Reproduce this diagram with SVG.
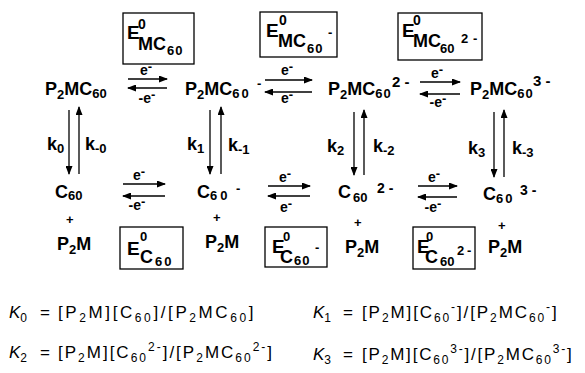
<svg xmlns="http://www.w3.org/2000/svg" width="585" height="373" viewBox="0 0 585 373">
<defs>
<marker id="ah" markerWidth="9" markerHeight="7" refX="8" refY="3.5" orient="auto" markerUnits="userSpaceOnUse"><path d="M0,0 L9,3.5 L0,7 z" fill="#000"/></marker>
<style>
.b{font-family:"Liberation Sans",Arial,sans-serif;font-weight:bold;fill:#000}
.r{font-family:"Liberation Sans",Arial,sans-serif;fill:#000;font-size:17px}
.m{font-size:18px}
.s{font-size:13px}
.e{font-size:14px}
.t{font-size:12px}
.box{fill:none;stroke:#000;stroke-width:1.3}
.ln{stroke:#000;stroke-width:1.3;fill:none}
</style>
</defs>
<rect width="585" height="373" fill="#fff"/>

<g id="box-E-MC60">
<rect class="box" x="123" y="13" width="71" height="51"/>
<text class="b" font-size="19" x="127" y="39">E<tspan font-size="14" x="138" y="29">0</tspan><tspan class="m" x="138" y="50">MC</tspan><tspan class="s" x="167" y="55" letter-spacing="1">60</tspan></text>
</g>
<g id="box-E-MC60-">
<rect class="box" x="260" y="12" width="77" height="45"/>
<text class="b" font-size="19" x="266" y="37">E<tspan font-size="14" x="279" y="25">0</tspan><tspan class="m" x="278" y="47">MC</tspan><tspan class="s" x="307" y="53" letter-spacing="1">60</tspan><tspan class="s" x="328" y="37">-</tspan></text>
</g>
<g id="box-E-MC60-2-">
<rect class="box" x="398" y="13" width="84" height="47"/>
<text class="b" font-size="19" x="402" y="37">E<tspan font-size="14" x="413" y="25">0</tspan><tspan class="m" x="413" y="47">MC</tspan><tspan class="s" x="440" y="53">60</tspan><tspan class="s" x="461" y="43">2</tspan><tspan class="s" x="473" y="43">-</tspan></text>
</g>

<g id="box-E-C60">
<rect class="box" x="120" y="227" width="63" height="42"/>
<text class="b" font-size="19" x="127" y="255">E<tspan font-size="13" x="140" y="241">0</tspan><tspan class="m" x="140" y="263">C</tspan><tspan class="s" x="155" y="266" letter-spacing="2">60</tspan></text>
</g>
<g id="box-E-C60-">
<rect class="box" x="265" y="227" width="62" height="40"/>
<text class="b" font-size="19" x="272" y="253">E<tspan font-size="13" x="283" y="241">0</tspan><tspan class="m" x="280" y="263">C</tspan><tspan class="s" x="294" y="265" letter-spacing="1">60</tspan><tspan class="s" x="315" y="252">-</tspan></text>
</g>
<g id="box-E-C60-2-">
<rect class="box" x="413" y="227" width="62" height="42"/>
<text class="b" font-size="19" x="417" y="253">E<tspan font-size="13" x="426" y="241">0</tspan><tspan class="m" x="425" y="263">C</tspan><tspan class="s" x="440" y="266">60</tspan><tspan class="s" x="457" y="255">2</tspan><tspan class="s" x="467" y="255">-</tspan></text>
</g>

<g id="P2MC60">
<text class="b m" x="45" y="95">P<tspan class="s" y="99">2</tspan><tspan y="95">MC</tspan><tspan class="s" y="98">60</tspan></text>
</g>
<g id="P2MC60-">
<text class="b m" x="185" y="95">P<tspan class="s" y="99">2</tspan><tspan y="95">MC</tspan><tspan class="s" y="98" letter-spacing="2">60</tspan><tspan class="s" x="257" y="88">-</tspan></text>
</g>
<g id="P2MC60-2-">
<text class="b m" x="328" y="95">P<tspan class="s" y="99">2</tspan><tspan y="95">MC</tspan><tspan class="s" y="98" letter-spacing="1">60</tspan><tspan font-size="15" x="392" y="87">2 -</tspan></text>
</g>
<g id="P2MC60-3-">
<text class="b m" x="470" y="95">P<tspan class="s" y="99">2</tspan><tspan y="95">MC</tspan><tspan class="s" y="98" letter-spacing="1">60</tspan><tspan font-size="15" x="533" y="86">3 -</tspan></text>
</g>

<g id="C60">
<text class="b m" x="55" y="198">C<tspan class="s" y="200">60</tspan></text>
<text class="b" font-size="13" x="66" y="224">+</text>
<text class="b m" x="57" y="250">P<tspan class="s" y="254">2</tspan><tspan y="250">M</tspan></text>
</g>
<g id="C60-">
<text class="b m" x="197" y="198">C<tspan class="s" x="210" y="200" letter-spacing="3">60</tspan><tspan class="s" x="236" y="193">-</tspan></text>
<text class="b" font-size="13" x="213" y="222">+</text>
<text class="b m" x="205" y="248">P<tspan class="s" y="252">2</tspan><tspan y="248">M</tspan></text>
</g>
<g id="C60-2-">
<text class="b m" x="338" y="198">C<tspan class="s" x="353" y="202">60</tspan><tspan font-size="14" x="377" y="193">2 -</tspan></text>
<text class="b" font-size="13" x="354" y="227">+</text>
<text class="b m" x="345" y="253">P<tspan class="s" y="257">2</tspan><tspan y="253">M</tspan></text>
</g>
<g id="C60-3-">
<text class="b m" x="483" y="200">C<tspan class="s" x="496" y="203" letter-spacing="2">60</tspan><tspan font-size="14" x="520" y="195">3 -</tspan></text>
<text class="b" font-size="13" x="498" y="230">+</text>
<text class="b m" x="488" y="253">P<tspan class="s" y="257">2</tspan><tspan y="253">M</tspan></text>
</g>

<g id="connectors">
<line class="ln" x1="128" y1="79" x2="167" y2="79" marker-end="url(#ah)"/>
<line class="ln" x1="167" y1="88" x2="128" y2="88" marker-end="url(#ah)"/>
<line class="ln" x1="265" y1="80" x2="312" y2="80" marker-end="url(#ah)"/>
<line class="ln" x1="312" y1="92" x2="265" y2="92" marker-end="url(#ah)"/>
<line class="ln" x1="420" y1="82" x2="460" y2="82" marker-end="url(#ah)"/>
<line class="ln" x1="460" y1="94" x2="420" y2="94" marker-end="url(#ah)"/>

<line class="ln" x1="123" y1="184" x2="165" y2="184" marker-end="url(#ah)"/>
<line class="ln" x1="165" y1="196" x2="123" y2="196" marker-end="url(#ah)"/>
<line class="ln" x1="268" y1="186" x2="310" y2="186" marker-end="url(#ah)"/>
<line class="ln" x1="310" y1="196" x2="268" y2="196" marker-end="url(#ah)"/>
<line class="ln" x1="418" y1="186" x2="457" y2="186" marker-end="url(#ah)"/>
<line class="ln" x1="457" y1="197" x2="418" y2="197" marker-end="url(#ah)"/>

<line class="ln" x1="69" y1="110" x2="69" y2="174" marker-end="url(#ah)"/>
<line class="ln" x1="79" y1="174" x2="79" y2="107" marker-end="url(#ah)"/>
<line class="ln" x1="210" y1="110" x2="210" y2="174" marker-end="url(#ah)"/>
<line class="ln" x1="221" y1="174" x2="221" y2="107" marker-end="url(#ah)"/>
<line class="ln" x1="354" y1="112" x2="354" y2="175" marker-end="url(#ah)"/>
<line class="ln" x1="364" y1="175" x2="364" y2="110" marker-end="url(#ah)"/>
<line class="ln" x1="494" y1="112" x2="494" y2="177" marker-end="url(#ah)"/>
<line class="ln" x1="504" y1="177" x2="504" y2="110" marker-end="url(#ah)"/>

<g class="b e" text-anchor="middle">
<text x="146" y="75">e<tspan class="s" dy="-4">-</tspan></text>
<text x="147" y="103">-e<tspan class="s" dy="-4">-</tspan></text>
<text x="287" y="75">e<tspan class="s" dy="-4">-</tspan></text>
<text x="287" y="103">e<tspan class="s" dy="-4">-</tspan></text>
<text x="437" y="78">e<tspan class="s" dy="-4">-</tspan></text>
<text x="438" y="107">-e<tspan class="s" dy="-4">-</tspan></text>
<text x="139" y="180">e<tspan class="s" dy="-4">-</tspan></text>
<text x="137" y="210">-e<tspan class="s" dy="-4">-</tspan></text>
<text x="285" y="182">e<tspan class="s" dy="-4">-</tspan></text>
<text x="286" y="212">e<tspan class="s" dy="-4">-</tspan></text>
<text x="434" y="182">e<tspan class="s" dy="-4">-</tspan></text>
<text x="433" y="212">-e<tspan class="s" dy="-4">-</tspan></text>
</g>
<g class="b m">
<text x="47" y="150">k<tspan class="s" y="153">0</tspan></text>
<text x="85" y="150">k<tspan class="s" y="153">-0</tspan></text>
<text x="187" y="150">k<tspan class="s" y="153">1</tspan></text>
<text x="228" y="151">k<tspan class="s" y="154">-1</tspan></text>
<text x="327" y="152">k<tspan class="s" y="155">2</tspan></text>
<text x="373" y="152">k<tspan class="s" y="155">-2</tspan></text>
<text x="468" y="154">k<tspan class="s" y="157">3</tspan></text>
<text x="512" y="154">k<tspan class="s" y="157">-3</tspan></text>
</g>
</g>

<g id="equations" class="r">
<text x="9" y="318"><tspan font-style="italic">K</tspan><tspan class="t" y="322">0</tspan><tspan x="40" y="318">=</tspan><tspan x="58" letter-spacing="2.6">[P<tspan class="t" y="322">2</tspan><tspan y="318">M][C</tspan><tspan class="t" y="322">60</tspan><tspan y="318">]/[P</tspan><tspan class="t" y="322">2</tspan><tspan y="318">MC</tspan><tspan class="t" y="322">60</tspan><tspan y="318">]</tspan></tspan></text>
<text x="313" y="318"><tspan font-style="italic">K</tspan><tspan class="t" y="322">1</tspan><tspan x="343" y="318">=</tspan><tspan x="362" letter-spacing="1.9">[P<tspan class="t" y="322">2</tspan><tspan y="318">M][C</tspan><tspan class="t" y="322">60</tspan><tspan class="t" y="311">-</tspan><tspan y="318">]/[P</tspan><tspan class="t" y="322">2</tspan><tspan y="318">MC</tspan><tspan class="t" y="322">60</tspan><tspan class="t" y="311">-</tspan><tspan y="318">]</tspan></tspan></text>
<text x="9" y="358"><tspan font-style="italic">K</tspan><tspan class="t" y="362">2</tspan><tspan x="40" y="358">=</tspan><tspan x="58" letter-spacing="2">[P<tspan class="t" y="362">2</tspan><tspan y="358">M][C</tspan><tspan class="t" y="362">60</tspan><tspan class="t" y="351">2-</tspan><tspan y="358">]/[P</tspan><tspan class="t" y="362">2</tspan><tspan y="358">MC</tspan><tspan class="t" y="362">60</tspan><tspan class="t" y="351">2-</tspan><tspan y="358">]</tspan></tspan></text>
<text x="313" y="360"><tspan font-style="italic">K</tspan><tspan class="t" y="364">3</tspan><tspan x="343" y="360">=</tspan><tspan x="362" letter-spacing="1.8">[P<tspan class="t" y="364">2</tspan><tspan y="360">M][C</tspan><tspan class="t" y="364">60</tspan><tspan class="t" y="353">3-</tspan><tspan y="360">]/[P</tspan><tspan class="t" y="364">2</tspan><tspan y="360">MC</tspan><tspan class="t" y="364">60</tspan><tspan class="t" y="353">3-</tspan><tspan y="360">]</tspan></tspan></text>
</g>
</svg>
